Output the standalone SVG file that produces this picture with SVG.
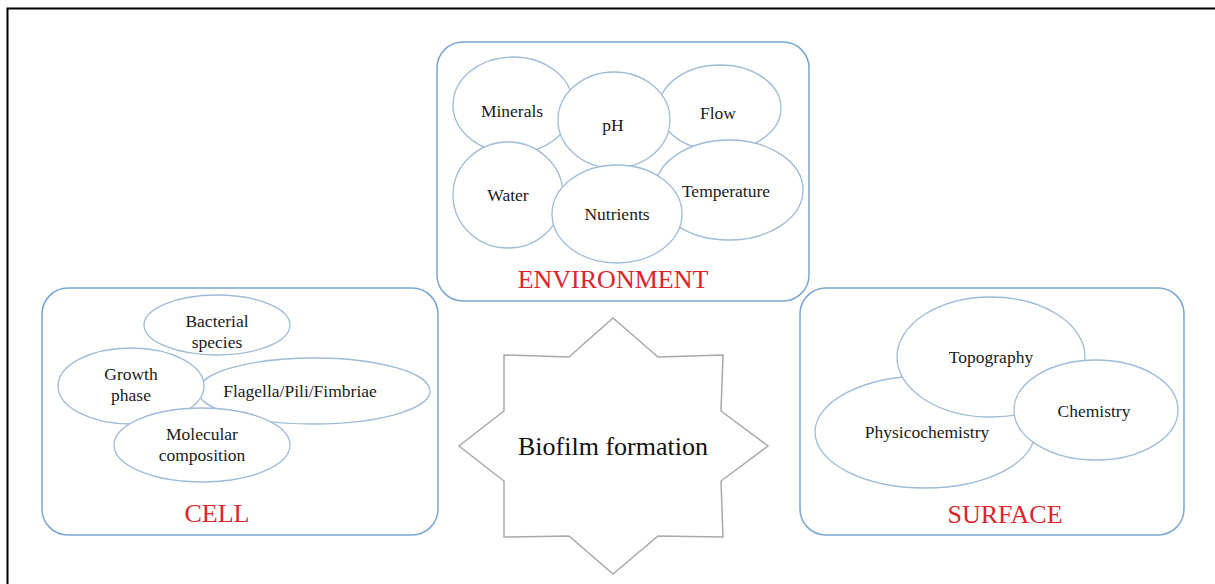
<svg xmlns="http://www.w3.org/2000/svg" width="1215" height="584" viewBox="0 0 1215 584">
<style>
.box{fill:#fff;stroke:#79a6d2;stroke-width:1.5}
.el{fill:#fff;stroke:#9fbbd6;stroke-width:1.3}
.t{font-family:"Liberation Serif","Times New Roman",serif;font-size:17.5px;fill:#1a1a1a;text-anchor:middle}
.h{font-family:"Liberation Serif","Times New Roman",serif;font-size:26px;fill:#e0232a;text-anchor:middle}
.star{fill:#fff;stroke:#a9a9a9;stroke-width:1.5}
.big{font-family:"Liberation Serif","Times New Roman",serif;font-size:26px;fill:#111;text-anchor:middle}
</style>
<rect width="1215" height="584" fill="#fff"/>
<path d="M7.5 584 V8.5 H1215" fill="none" stroke="#000" stroke-width="2"/>
<g id="environment">
<rect class="box" x="437" y="42" width="372" height="259" rx="26"/>
<g id="env-minerals"><ellipse class="el" cx="513" cy="105" rx="60" ry="48"/><text class="t" x="512" y="117">Minerals</text></g>
<g id="env-flow"><ellipse class="el" cx="720" cy="108" rx="61" ry="43"/><text class="t" x="718" y="119">Flow</text></g>
<g id="env-ph"><ellipse class="el" cx="614" cy="120" rx="56" ry="48"/><text class="t" x="613" y="131">pH</text></g>
<g id="env-water"><ellipse class="el" cx="508" cy="195" rx="55" ry="53"/><text class="t" x="508" y="201">Water</text></g>
<g id="env-temperature"><ellipse class="el" cx="729" cy="190" rx="74" ry="50"/><text class="t" x="726" y="197">Temperature</text></g>
<g id="env-nutrients"><ellipse class="el" cx="617" cy="214" rx="65" ry="49"/><text class="t" x="617" y="220">Nutrients</text></g>
<text class="h" x="613" y="288">ENVIRONMENT</text>
</g>
<g id="cell">
<rect class="box" x="42" y="288" width="396" height="247" rx="26"/>
<g id="cell-bacterial"><ellipse class="el" cx="217" cy="325" rx="73" ry="30"/><text class="t" x="217" y="327">Bacterial</text><text class="t" x="217" y="348">species</text></g>
<g id="cell-flagella"><ellipse class="el" cx="314" cy="391" rx="116" ry="33"/><text class="t" x="300" y="397">Flagella/Pili/Fimbriae</text></g>
<g id="cell-growth"><ellipse class="el" cx="131" cy="386" rx="73" ry="38"/><text class="t" x="131" y="380">Growth</text><text class="t" x="131" y="401">phase</text></g>
<g id="cell-molecular"><ellipse class="el" cx="202" cy="445" rx="88" ry="37"/><text class="t" x="202" y="440">Molecular</text><text class="t" x="202" y="461">composition</text></g>
<text class="h" x="217" y="522">CELL</text>
</g>
<g id="surface">
<rect class="box" x="800" y="288" width="384" height="247" rx="26"/>
<g id="surf-physico"><ellipse class="el" cx="925" cy="432" rx="110" ry="56"/><text class="t" x="927" y="438">Physicochemistry</text></g>
<g id="surf-topography"><ellipse class="el" cx="991" cy="357" rx="94" ry="60"/><text class="t" x="991" y="363">Topography</text></g>
<g id="surf-chemistry"><ellipse class="el" cx="1096" cy="410" rx="82" ry="50"/><text class="t" x="1094" y="417">Chemistry</text></g>
<text class="h" x="1005" y="523">SURFACE</text>
</g>
<g id="biofilm">
<polygon class="star" points="613,318 658,357 723,355 721,411 768,446 721,481 723,537 658,536 613,574 569,536 504,537 504,481 459,446 504,411 504,355 569,357"/>
<text class="big" x="613" y="455">Biofilm formation</text>
</g>
<g id="connectors"/>
</svg>
